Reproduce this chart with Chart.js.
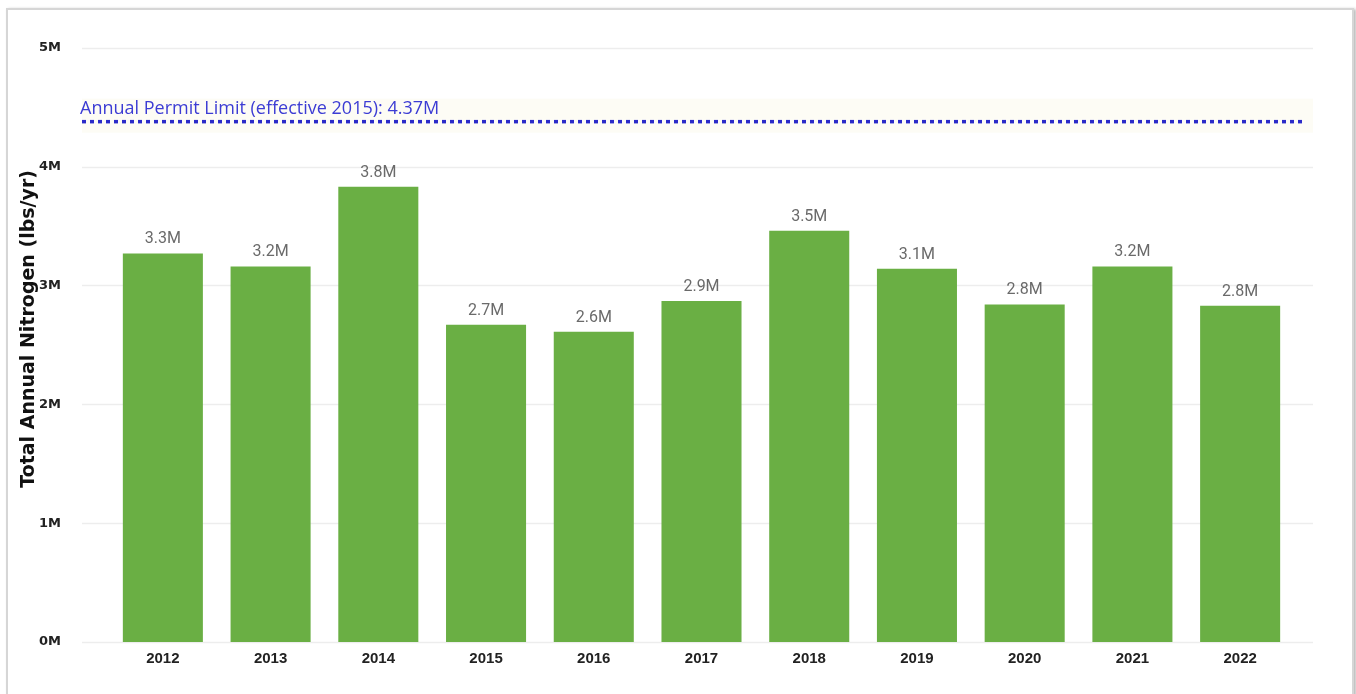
<!DOCTYPE html>
<html>
<head>
<meta charset="utf-8">
<title>Total Annual Nitrogen</title>
<script src="https://cdn.jsdelivr.net/npm/chart.js@4.4.1/dist/chart.umd.min.js"></script>
<style>
  html, body { margin: 0; padding: 0; background: #fff; overflow: hidden; }
  #frame {
    position: absolute; left: 6px; top: 8px; width: 1344px; height: 720px;
    border: 2px solid #d6d6d6; box-shadow: 2px 1px 3px rgba(0,0,0,0.28);
  }
  #wrap { position: absolute; left: 0; top: 0; width: 1356px; height: 694px; }
</style>
</head>
<body>
<div id="frame"></div>
<div id="wrap"><canvas id="chart"></canvas></div>
<script>
// Yearly totals of nitrogen discharged (lbs/yr)
const YEARS = ['2012', '2013', '2014', '2015', '2016', '2017', '2018', '2019', '2020', '2021', '2022'];
const NITROGEN_LBS = [3270000, 3160000, 3830000, 2670000, 2610000, 2870000, 3460000, 3140000, 2840000, 3160000, 2830000];
const Y_TICKS = [0, 1000000, 2000000, 3000000, 4000000, 5000000];
const PERMIT_LIMIT = 4370000;
const PERMIT_LABEL = 'Annual Permit Limit (effective 2015): ' + (PERMIT_LIMIT / 1e6).toFixed(2) + 'M';
const AXIS_TITLE = 'Total Annual Nitrogen (lbs/yr)';

const fmtM = v => (v / 1e6).toFixed(1) + 'M';

// Horizontal gridlines and the permit-limit reference line, drawn wider than the bar area
const referencePlugin = {
  id: 'reference',
  beforeDatasetsDraw(chart) {
    const { ctx, chartArea, scales: { y } } = chart;
    const left = chartArea.left - 27;
    const right = chartArea.right + 19;
    ctx.save();
    ctx.strokeStyle = '#ededed';
    ctx.lineWidth = 1.5;
    Y_TICKS.forEach(t => {
      const py = Math.round(y.getPixelForValue(t)) + 0.5;
      ctx.beginPath();
      ctx.moveTo(left, py);
      ctx.lineTo(right, py);
      ctx.stroke();
    });

    const ly = y.getPixelForValue(PERMIT_LIMIT) - 1;
    ctx.fillStyle = 'rgba(250, 248, 232, 0.45)';
    ctx.fillRect(left, ly - 23, right - left, 34);

    ctx.strokeStyle = '#2b2bc9';
    ctx.lineWidth = 3.5;
    ctx.setLineDash([4, 4]);
    ctx.beginPath();
    ctx.moveTo(left, ly);
    ctx.lineTo(right - 8, ly);
    ctx.stroke();
    ctx.setLineDash([]);

    ctx.fillStyle = '#3c3cd4';
    ctx.font = '18px "Open Sans", sans-serif';
    ctx.textAlign = 'left';
    ctx.textBaseline = 'alphabetic';
    ctx.fillText(PERMIT_LABEL, left - 2, ly - 8);
    ctx.restore();
  }
};

// Value labels above each bar
const valueLabelPlugin = {
  id: 'valueLabels',
  afterDatasetsDraw(chart) {
    const { ctx } = chart;
    const meta = chart.getDatasetMeta(0);
    ctx.save();
    ctx.fillStyle = '#6a6a6a';
    ctx.font = '16px Roboto, sans-serif';
    ctx.textAlign = 'center';
    ctx.textBaseline = 'alphabetic';
    meta.data.forEach((bar, i) => {
      ctx.fillText(fmtM(NITROGEN_LBS[i]), bar.x, bar.y - 10);
    });
    ctx.restore();
  }
};

// Rotated y-axis title, set a little above the plot's vertical middle
const axisTitlePlugin = {
  id: 'axisTitle',
  afterDraw(chart) {
    const { ctx, chartArea } = chart;
    ctx.save();
    ctx.translate(29, (chartArea.top + chartArea.bottom) / 2 - 16);
    ctx.rotate(-Math.PI / 2);
    ctx.fillStyle = '#111';
    ctx.font = 'bold 19px "DejaVu Sans", sans-serif';
    ctx.textAlign = 'center';
    ctx.textBaseline = 'middle';
    ctx.fillText(AXIS_TITLE, 0, 0);
    ctx.restore();
  }
};

new Chart(document.getElementById('chart'), {
  type: 'bar',
  data: {
    labels: YEARS,
    datasets: [{
      data: NITROGEN_LBS,
      backgroundColor: '#6aaf44',
      borderWidth: 0,
      categoryPercentage: 1,
      barPercentage: 0.743
    }]
  },
  options: {
    responsive: true,
    maintainAspectRatio: false,
    animation: false,
    devicePixelRatio: 1,
    layout: { padding: { left: 0, right: 62, top: 46, bottom: 0 } },
    plugins: {
      legend: { display: false },
      tooltip: { enabled: false }
    },
    scales: {
      x: {
        grid: { display: false },
        border: { display: false },
        ticks: {
          color: '#222',
          font: { family: '"Liberation Sans", Arial, sans-serif', weight: 'bold', size: 15 },
          padding: 0,
          maxRotation: 0
        },
        afterFit(scale) { scale.height = 52; }
      },
      y: {
        min: 0,
        max: 5000000,
        afterBuildTicks(scale) { scale.ticks = Y_TICKS.map(v => ({ value: v })); },
        grid: { display: false },
        border: { display: false },
        ticks: {
          color: '#222',
          font: { family: '"DejaVu Sans", sans-serif', weight: 'bold', size: 13 },
          padding: 40,
          callback: v => (v / 1e6) + 'M'
        },
        afterFit(scale) { scale.width = 109; }
      }
    }
  },
  plugins: [referencePlugin, valueLabelPlugin, axisTitlePlugin]
});
</script>
</body>
</html>
